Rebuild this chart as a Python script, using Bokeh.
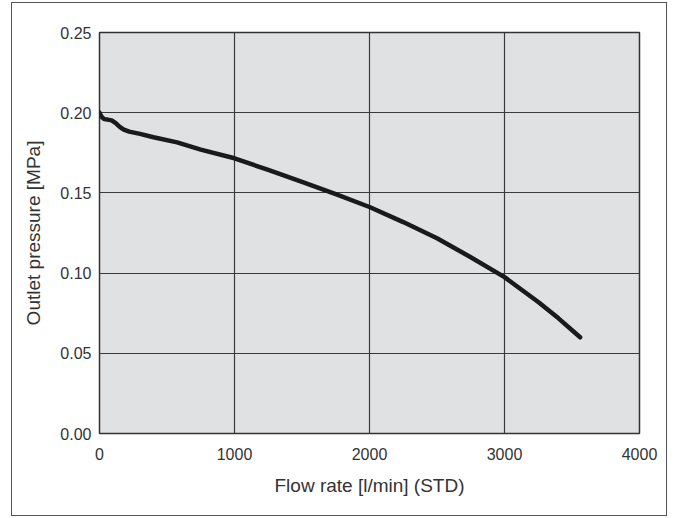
from bokeh.plotting import figure
from bokeh.models import Range1d, FixedTicker, NumeralTickFormatter
from bokeh.embed import file_html
from bokeh.resources import INLINE

# Data
flow = [0, 15, 35, 60, 90, 120, 150, 180, 220, 300, 400, 575, 750, 1000,
        1250, 1500, 1750, 2000, 2250, 2500, 2750, 3000, 3250, 3400, 3560]
pressure = [0.200, 0.1975, 0.196, 0.1957, 0.1952, 0.1935, 0.1912, 0.1895,
            0.1882, 0.1868, 0.1847, 0.1815, 0.1770, 0.1716, 0.1643, 0.1568,
            0.1492, 0.1412, 0.1318, 0.1217, 0.1099, 0.0975, 0.0820, 0.0718,
            0.0600]
x_ticks = [0, 1000, 2000, 3000, 4000]
y_ticks = [0.0, 0.05, 0.10, 0.15, 0.20, 0.25]
x_label = "Flow rate [l/min] (STD)"
y_label = "Outlet pressure [MPa]"

FONT = "Liberation Sans"
TXT = "#333333"

p = figure(width=656, height=514, output_backend="svg", toolbar_location=None,
           x_range=Range1d(0, 4000), y_range=Range1d(0, 0.25),
           min_border_left=87, min_border_top=29, min_border_right=29,
           min_border_bottom=84)
p.margin = (2, 0, 0, 11)
p.styles = {"border": "1.5px solid #555555"}

p.background_fill_color = "#e0e1e2"
p.border_fill_color = "white"
p.outline_line_color = "#333333"
p.outline_line_width = 1.5

p.xaxis.ticker = FixedTicker(ticks=x_ticks)
p.yaxis.ticker = FixedTicker(ticks=y_ticks)
p.yaxis.formatter = NumeralTickFormatter(format="0.00")

for ax in (p.xaxis, p.yaxis):
    ax.axis_line_color = None
    ax.major_tick_line_color = None
    ax.minor_tick_line_color = None
    ax.major_tick_out = 0
    ax.major_tick_in = 0
    ax.major_label_text_font = FONT
    ax.major_label_text_font_size = "16px"
    ax.major_label_text_color = TXT
    ax.axis_label_text_font = FONT
    ax.axis_label_text_font_size = "19px"
    ax.axis_label_text_font_style = "normal"
    ax.axis_label_text_color = TXT

p.xaxis.axis_label = x_label
p.yaxis.axis_label = y_label
p.xaxis.major_label_standoff = 14
p.yaxis.major_label_standoff = 8
p.xaxis.axis_label_standoff = 12
p.yaxis.axis_label_standoff = 13

p.grid.grid_line_color = "#3a3a3a"
p.grid.grid_line_width = 1.2
p.grid.grid_line_alpha = 1.0

p.line(flow, pressure, line_color="#1a1a1a", line_width=4.5,
       line_cap="round", line_join="round")

open("out.html", "w").write(file_html(p, INLINE))
